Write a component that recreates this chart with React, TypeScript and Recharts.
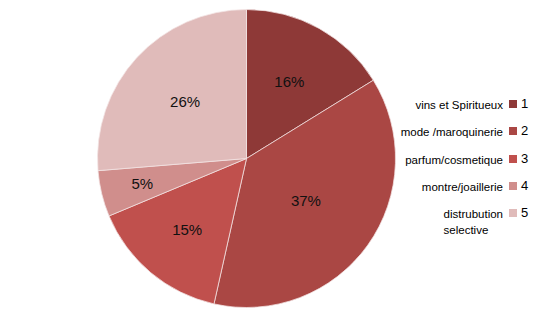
import { PieChart, Pie, Cell, Legend } from "recharts";

const categories = ["1", "2", "3", "4", "5"];
const names = ["vins et Spiritueux", "mode /maroquinerie", "parfum/cosmetique", "montre/joaillerie", "distrubution selective"];
const values = [16.2, 37.3, 15.2, 5.0, 26.3];
const colors = ["#8E3937", "#AA4744", "#C0504D", "#D08E8C", "#E0BBBA"];

// Excel "best fit" puts each label at a slightly different distance
const labelRadius = [0.59, 0.49, 0.62, 0.72, 0.56];

const data = categories.map((c, i) => ({ name: c, label: names[i], value: values[i] }));
const total = values.reduce((a, b) => a + b, 0);

const RAD = Math.PI / 180;

const renderLabel = (props: any) => {
  const { cx, cy, midAngle, outerRadius, index, value } = props;
  const r = outerRadius * labelRadius[index];
  const x = cx + r * Math.cos(-midAngle * RAD);
  const y = cy + r * Math.sin(-midAngle * RAD);
  return (
    <text x={x} y={y} textAnchor="middle" dominantBaseline="central" fontSize={15} fill="#111" fontFamily="'Liberation Sans', Arial, sans-serif">
      {`${Math.round((value / total) * 100)}%`}
    </text>
  );
};

const LegendBox = () => (
  <div style={{ position: "relative", width: 539, height: 319, fontFamily: "'Liberation Sans', Arial, sans-serif", color: "#000" }}>
    {data.map((d, i) => {
      const top = 104 + i * 27.3;
      const parts = d.label === "distrubution selective" ? ["distrubution", "selective"] : [d.label];
      return (
        <div key={d.name}>
          <div
            style={{
              position: "absolute",
              right: 539 - 503,
              top: top - 7,
              fontSize: 11.5,
              lineHeight: "16px",
              textAlign: parts.length > 1 ? "left" : "right",
              whiteSpace: "nowrap",
            }}
          >
            {parts.map((p) => (
              <div key={p}>{p}</div>
            ))}
          </div>
          <div style={{ position: "absolute", left: 509, top: top - 4, width: 8, height: 8, background: colors[i] }} />
          <div style={{ position: "absolute", left: 521, top: top - 8, fontSize: 13, lineHeight: "16px" }}>{d.name}</div>
        </div>
      );
    })}
  </div>
);

export default function App() {
  return (
    <div style={{ position: "absolute", left: 0, top: 0, background: "#fff" }}>
      <PieChart width={539} height={319} margin={{ top: 0, right: 0, bottom: 0, left: 0 }}>
        <Pie
          data={data}
          dataKey="value"
          nameKey="name"
          cx={246.5}
          cy={158.5}
          outerRadius={149}
          startAngle={90}
          endAngle={-270}
          stroke="#F3E4E4"
          strokeWidth={0.75}
          label={renderLabel}
          labelLine={false}
          isAnimationActive={false}
        >
          {data.map((d, i) => (
            <Cell key={d.name} fill={colors[i]} />
          ))}
        </Pie>
        <Legend content={<LegendBox />} wrapperStyle={{ position: "absolute", left: 0, top: 0, width: 539, height: 319 }} />
      </PieChart>
    </div>
  );
}
